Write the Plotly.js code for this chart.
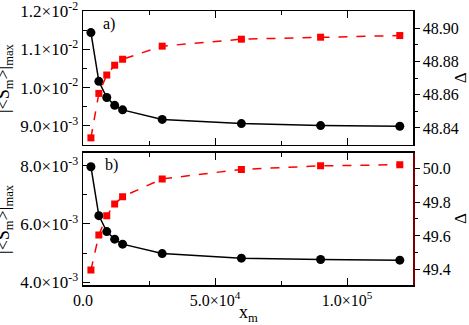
<!DOCTYPE html>
<html>
<head>
<meta charset="utf-8">
<script src="https://cdn.plot.ly/plotly-3.0.1.min.js"></script>
<style>
  html, body { margin: 0; padding: 0; background: #fff; }
  #chart { width: 469px; height: 325px; }
</style>
</head>
<body>
<div id="chart"></div>
<script>
// x_m values shared by both panels
const xm = [3000, 6000, 9000, 12000, 15000, 30000, 60000, 90000, 120000];

// panel a)
const sA = [11.44e-3, 10.165e-3, 9.743e-3, 9.537e-3, 9.419e-3, 9.169e-3, 9.059e-3, 9.007e-3, 8.989e-3];
const deltaA = [48.834, 48.8608, 48.8719, 48.8778, 48.8814, 48.8893, 48.8935, 48.8947, 48.8957];

// panel b)
const sB = [7.966e-3, 6.285e-3, 5.736e-3, 5.475e-3, 5.304e-3, 4.981e-3, 4.823e-3, 4.775e-3, 4.755e-3];
const deltaB = [49.398, 49.605, 49.719, 49.788, 49.832, 49.937, 49.993, 50.014, 50.021];

// tick labels
const xTickVals = [0, 50000, 100000];
const xTickText = ['0.0', '5.0×10<sup>4</sup>', '1.0×10<sup>5</sup>'];
const sATickVals = [0.009, 0.010, 0.011, 0.012];
const sATickText = ['9.0×10<sup>-3</sup>', '1.0×10<sup>-2</sup>', '1.1×10<sup>-2</sup>', '1.2×10<sup>-2</sup>'];
const sBTickVals = [0.004, 0.006, 0.008];
const sBTickText = ['4.0×10<sup>-3</sup>', '6.0×10<sup>-3</sup>', '8.0×10<sup>-3</sup>'];
const dATickVals = [48.84, 48.86, 48.88, 48.90];
const dATickText = ['48.84', '48.86', '48.88', '48.90'];
const dBTickVals = [49.4, 49.6, 49.8, 50.0];
const dBTickText = ['49.4', '49.6', '49.8', '50.0'];

const sTitle = '|&lt;S<sub>m</sub>&gt;|<sub>max</sub>';
const dTitle = 'Δ';
const xTitle = 'x<sub>m</sub>';

const serif = 'Liberation Serif, Times New Roman, serif';
const tickFont = { family: serif, size: 16, color: '#000' };
const leftTickFont = { family: serif, size: 17, color: '#000' };
const titleFont = { family: serif, size: 18, color: '#000' };

function sTrace(y, yaxis) {
    return {
        x: xm, y, xaxis: yaxis === 'y' ? 'x' : 'x2', yaxis,
        mode: 'lines+markers', showlegend: false,
        line: { color: '#000', width: 1.5 },
        marker: { symbol: 'circle', size: 9, color: '#000' }
    };
}

function dTrace(y, yaxis, xaxis) {
    return {
        x: xm, y, xaxis, yaxis,
        mode: 'lines+markers', showlegend: false,
        line: { color: '#ff0000', width: 1.5, dash: 'dash' },
        marker: { symbol: 'square', size: 7, color: '#ff0000' }
    };
}

const traces = [
    sTrace(sA, 'y'),
    dTrace(deltaA, 'y2', 'x'),
    sTrace(sB, 'y3'),
    dTrace(deltaB, 'y4', 'x2')
];

const xCommon = {
    range: [0, 125000],
    tickmode: 'array', tickvals: xTickVals,
    ticks: 'inside', ticklen: 7, tickcolor: '#000',
    minor: { tickvals: [25000, 75000], ticks: 'inside', ticklen: 4, tickcolor: '#000' },
    showline: true, linecolor: '#000', linewidth: 1.5, mirror: 'ticks',
    showgrid: false, zeroline: false,
    tickfont: tickFont
};

function leftY(domain, range, vals, text, minorVals) {
    return {
        domain, range,
        tickmode: 'array', tickvals: vals, ticktext: text,
        ticks: 'inside', ticklen: 7, tickcolor: '#000',
        minor: { tickvals: minorVals, ticks: 'inside', ticklen: 4, tickcolor: '#000' },
        showline: true, linecolor: '#000', linewidth: 1.5,
        showgrid: false, zeroline: false,
        tickfont: leftTickFont, ticklabeloverflow: 'allow'
    };
}

function rightY(overlay, anchor, range, vals, text, minorVals, lineColor) {
    return {
        overlaying: overlay, anchor, side: 'right', range,
        tickmode: 'array', tickvals: vals, ticktext: text,
        ticks: 'outside', ticklen: 5, tickcolor: '#000',
        minor: { tickvals: minorVals, ticks: 'outside', ticklen: 3, tickcolor: '#000' },
        showline: true, linecolor: lineColor, linewidth: 1.5,
        showgrid: false, zeroline: false,
        tickfont: tickFont
    };
}

// axis titles as rotated annotations so they sit where the reference has them
function yTitle(text, yref, x, size) {
    return {
        text, xref: 'paper', yref, x, y: 0.5, textangle: -90,
        xanchor: 'center', yanchor: 'middle', showarrow: false,
        font: Object.assign({}, titleFont, { size })
    };
}

const layout = {
    width: 469, height: 325,
    margin: { l: 83, r: 56, t: 11, b: 40 },
    paper_bgcolor: '#fff', plot_bgcolor: '#fff',
    showlegend: false,
    xaxis: Object.assign({}, xCommon, { anchor: 'y', showticklabels: false }),
    xaxis2: Object.assign({}, xCommon, { anchor: 'y3', matches: 'x', ticktext: xTickText }),
    yaxis: leftY([0.511, 1], [0.0085, 0.012005], sATickVals, sATickText, [0.0095, 0.0105, 0.0115]),
    yaxis2: rightY('y', 'x', [48.8297, 48.9105], dATickVals, dATickText, [48.85, 48.87, 48.89], '#000'),
    yaxis3: leftY([0, 0.483], [0.0039, 0.00845], sBTickVals, sBTickText, [0.005, 0.007]),
    yaxis4: rightY('y3', 'x2', [49.31, 50.092], dBTickVals, dBTickText, [49.5, 49.7, 49.9], '#7a0000'),
    annotations: [
        { text: 'a)', xref: 'x domain', yref: 'y domain', x: 0.055, y: 0.9,
          xanchor: 'left', yanchor: 'middle', showarrow: false, font: tickFont },
        { text: 'b)', xref: 'x2 domain', yref: 'y3 domain', x: 0.06, y: 0.905,
          xanchor: 'left', yanchor: 'middle', showarrow: false, font: tickFont },
        yTitle(sTitle, 'y domain', -0.236, 18),
        yTitle(sTitle, 'y3 domain', -0.236, 18),
        yTitle(dTitle, 'y domain', 1.146, 17),
        yTitle(dTitle, 'y3 domain', 1.146, 17),
        { text: xTitle, xref: 'paper', yref: 'paper', x: 0.5, y: -0.055,
          xanchor: 'center', yanchor: 'top', showarrow: false, font: Object.assign({}, titleFont, { size: 18 }) }
    ]
};

Plotly.newPlot('chart', traces, layout, { displayModeBar: false, staticPlot: true });
</script>
</body>
</html>
